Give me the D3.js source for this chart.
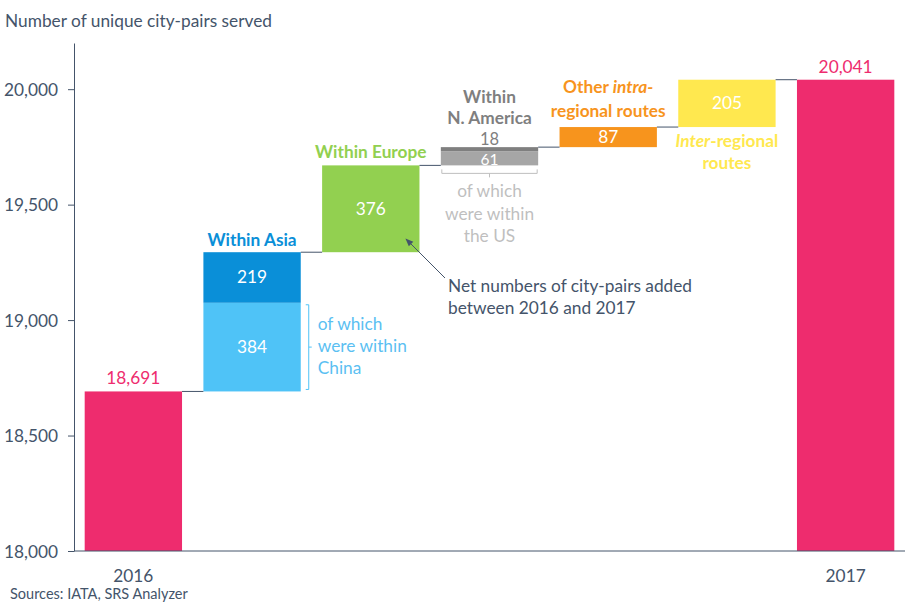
<!DOCTYPE html>
<html><head><meta charset="utf-8">
<script src="https://cdn.jsdelivr.net/npm/d3@7"></script>
<style>
body{margin:0;background:#fff;}
svg{display:block;font-family:Lato,"Open Sans",sans-serif;}
</style></head>
<body><svg id="c" width="920" height="608"></svg>
<script>
const categories = ["2016","Within Asia","Within Europe","Within N. America","Other intra-regional","Inter-regional","2017"];
const startValue = 18691;
const endValue = 20041;
// segments added per category (bottom to top)
const asiaSegments = [384, 219];      // within China, rest of Asia
const europeSegments = [376];
const naSegments = [61, 18];          // within US, rest of N. America
const otherIntraSegments = [87];
const interSegments = [205];
const yTicks = [18000, 18500, 19000, 19500, 20000];

const colors = {
  total:"#EE2C6E", asiaDark:"#0A8FD8", china:"#4FC3F7", europe:"#92D050",
  us:"#A6A6A6", naDark:"#7F7F7F", other:"#F7941D", inter:"#FFE84F",
  axis:"#44546A"
};
const FS = 17.3;

const svg = d3.select("#c");
const x = d3.scaleBand().domain(categories).range([74, 905]).paddingInner(0.18).paddingOuter(0.09);
const y = d3.scaleLinear().domain([18000, 20200]).range([551, 43]);

// build segments
const segs = [];
segs.push({cat:categories[0], y0:18000, y1:startValue, color:colors.total});
let cum = startValue;
const groups = [
  [categories[1], asiaSegments, [colors.china, colors.asiaDark]],
  [categories[2], europeSegments, [colors.europe]],
  [categories[3], naSegments, [colors.us, colors.naDark]],
  [categories[4], otherIntraSegments, [colors.other]],
  [categories[5], interSegments, [colors.inter]]
];
const tops = [{cat:categories[0], v:startValue}];
groups.forEach(([cat, vals, cols]) => {
  vals.forEach((v,i) => { segs.push({cat, y0:cum, y1:cum+v, color:cols[i], v}); cum += v; });
  tops.push({cat, v:cum});
});
segs.push({cat:categories[6], y0:18000, y1:endValue, color:colors.total});

svg.selectAll("rect.seg").data(segs).join("rect")
  .attr("x", d => x(d.cat)).attr("width", x.bandwidth())
  .attr("y", d => y(d.y1)).attr("height", d => y(d.y0) - y(d.y1))
  .attr("fill", d => d.color);

// connectors
for (let i = 0; i < tops.length; i++) {
  const next = categories[i+1];
  svg.append("line").attr("x1", x(tops[i].cat) + x.bandwidth()).attr("x2", x(next))
    .attr("y1", y(tops[i].v)).attr("y2", y(tops[i].v))
    .attr("stroke", colors.axis).attr("stroke-width", 1);
}

// axes
const yAxis = d3.axisLeft(y).tickValues(yTicks).tickSize(6).tickSizeOuter(0).tickFormat(d3.format(","));
const gy = svg.append("g").attr("transform", "translate(74,0)").call(yAxis);
gy.select(".domain").attr("stroke", colors.axis);
gy.selectAll(".tick line").attr("stroke", colors.axis);
gy.selectAll(".tick text").attr("fill", colors.axis).attr("font-size", FS).attr("x", -16).attr("dy", "0.35em").attr("font-family", "Lato");
svg.append("line").attr("x1", 74).attr("x2", 905).attr("y1", y(18000)).attr("y2", y(18000)).attr("stroke", colors.axis);

const T = (txt, xx, yy, opt={}) => svg.append("text").attr("x", xx).attr("y", yy)
  .attr("text-anchor", opt.anchor || "middle").attr("fill", opt.fill || colors.axis)
  .attr("font-size", opt.size || FS).attr("font-weight", opt.weight || "normal").text(txt);

T("Number of unique city-pairs served", 5, 27, {anchor:"start"});
T("Sources: IATA, SRS Analyzer", 10, 599, {anchor:"start", size:14.5});
const cx = c => x(c) + x.bandwidth()/2;
T("2016", cx(categories[0]), 582);
T("2017", cx(categories[6]), 582);
T(d3.format(",")(startValue), cx(categories[0]), 384, {fill:colors.total});
T(d3.format(",")(endValue), cx(categories[6]), 73, {fill:colors.total});

// segment value labels
const mid = s => y((s.y0 + s.y1)/2);
const segOf = (cat, i) => segs.filter(s => s.cat === cat)[i];
const W = "#fff";
let s;
s = segOf(categories[1],0); T(s.v, cx(s.cat), mid(s)+6, {fill:W});
s = segOf(categories[1],1); T(s.v, cx(s.cat), mid(s)+6, {fill:W});
s = segOf(categories[2],0); T(s.v, cx(s.cat), mid(s)+6, {fill:W});
s = segOf(categories[3],0); T(s.v, cx(s.cat), mid(s)+6.5, {fill:W, size:15.5});
s = segOf(categories[3],1); T(s.v, cx(s.cat), y(s.y1)-2.5, {fill:"#7F7F7F", size:16.5});
s = segOf(categories[4],0); T(s.v, cx(s.cat), mid(s)+6, {fill:W});
s = segOf(categories[5],0); T(s.v, cx(s.cat), mid(s)+6, {fill:W});

// category labels
T("Within Asia", cx(categories[1]), 246, {fill:colors.asiaDark, weight:"bold"});
T("Within Europe", cx(categories[2]), 158, {fill:colors.europe, weight:"bold"});
T("Within", cx(categories[3]), 103, {fill:"#7F7F7F", weight:"bold"});
T("N. America", cx(categories[3]), 124, {fill:"#7F7F7F", weight:"bold"});
let t = T("Other ", cx(categories[4]), 93, {fill:colors.other, weight:"bold"});
t.append("tspan").attr("font-style","italic").text("intra-");
T("regional routes", cx(categories[4]), 117, {fill:colors.other, weight:"bold"});
t = T("", cx(categories[5]), 147, {fill:colors.inter, weight:"bold"});
t.append("tspan").attr("font-style","italic").text("Inter");
t.append("tspan").text("-regional");
T("routes", cx(categories[5]), 169, {fill:colors.inter, weight:"bold"});

// China bracket
const bx = x(categories[1]) + x.bandwidth() + 8;
const cs = segOf(categories[1],0);
svg.append("path").attr("d", `M${bx-3},${y(cs.y1)+2}H${bx}V${y(cs.y0)-2}H${bx-3}M${bx},${mid(cs)}H${bx+3}`)
  .attr("fill","none").attr("stroke", colors.china).attr("stroke-width",1);
["of which","were within","China"].forEach((l,i) => T(l, bx+9, 330+22*i, {anchor:"start", fill:"#5BBFF2"}));

// US bracket
const us = segOf(categories[3],0);
const bl = x(categories[3]) + 1, br = x(categories[3]) + x.bandwidth() - 1, by = y(us.y0) + 8;
svg.append("path").attr("d", `M${bl},${by-4}V${by}H${br}V${by-4}M${cx(categories[3])},${by}V${by+4}`)
  .attr("fill","none").attr("stroke", "#BFBFBF").attr("stroke-width",1);
["of which","were within","the US"].forEach((l,i) => T(l, cx(categories[3]), 197+22.5*i, {fill:"#BFBFBF"}));

// annotation arrow
svg.append("defs").append("marker").attr("id","ah").attr("viewBox","0 0 10 10").attr("refX",9).attr("refY",5)
  .attr("markerWidth",8).attr("markerHeight",8).attr("orient","auto-start-reverse")
  .append("path").attr("d","M0,1L10,5L0,9Z").attr("fill", colors.axis);
svg.append("line").attr("x1",445).attr("y1",278).attr("x2",406).attr("y2",239)
  .attr("stroke", colors.axis).attr("stroke-width",1).attr("marker-end","url(#ah)");
T("Net numbers of city-pairs added", 448, 292, {anchor:"start"});
T("between 2016 and 2017", 448, 314, {anchor:"start"});
</script></body></html>
